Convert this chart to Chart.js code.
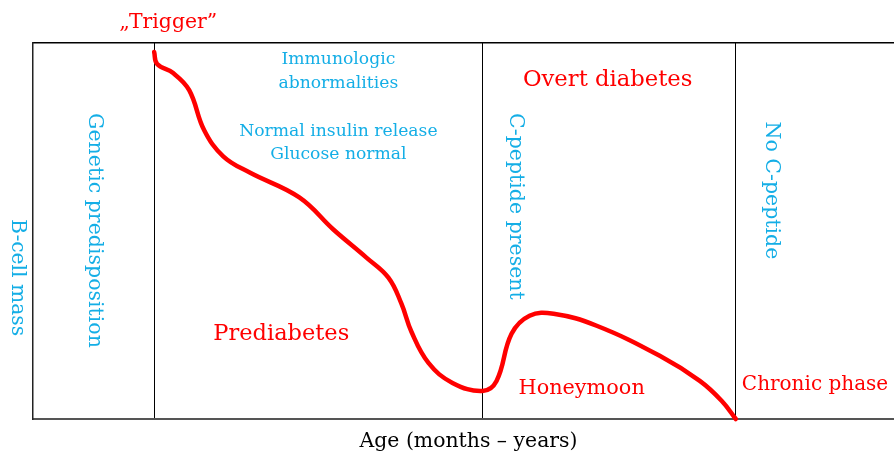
<!DOCTYPE html>
<html>
<head>
<meta charset="utf-8">
<script src="https://cdn.jsdelivr.net/npm/chart.js@4.4.1/dist/chart.umd.min.js"></script>
<style>
  html, body { margin: 0; padding: 0; background: #fff; }
  #wrap { width: 894px; height: 457px; }
</style>
</head>
<body>
<div id="wrap"><canvas id="myChart"></canvas></div>
<script>
// age axis runs 0..860, B-cell mass 0..375 (arbitrary units)
const ageX = [121, 124, 140, 156, 171, 190, 216, 266, 300, 333, 355, 368, 378, 395, 419, 449, 463, 478, 496, 520, 563, 626, 666, 688, 702];
const betaMass = [366, 354, 345, 328, 288, 262, 246, 221, 189, 161, 141, 115, 87, 56, 36, 28, 38, 85, 103, 105, 93, 63, 38, 18, 0];
const stageBounds = [121, 449, 702];

const cyan = '#14aee6';
const red = '#ff0000';
const font = '"DejaVu Serif", "Liberation Serif", serif';

// [text, x, y, color, size, align, rotated]
const labels = [
  ['\u201eTrigger\u201d', 135, 395, red, 20.4, 'center', false],
  ['Immunologic', 305, 359, cyan, 17.2, 'center', false],
  ['abnormalities', 305, 335, cyan, 17.2, 'center', false],
  ['Normal insulin release', 305, 287, cyan, 17.2, 'center', false],
  ['Glucose normal', 305, 264, cyan, 17.2, 'center', false],
  ['Overt diabetes', 574, 338, red, 22.7, 'center', false],
  ['Prediabetes', 248, 85, red, 22.5, 'center', false],
  ['Honeymoon', 548, 30, red, 20.8, 'center', false],
  ['Chronic phase', 708, 34, red, 20, 'left', false],
  ['B-cell mass', -16, 141, cyan, 20.3, 'center', true],
  ['Genetic predisposition', 61, 188, cyan, 20.5, 'center', true],
  ['C-peptide present', 482, 212, cyan, 20.5, 'center', true],
  ['No C-peptide', 737, 228, cyan, 20.5, 'center', true],
  ['Age (months \u2013 years)', 435, -23, '#000', 20.4, 'center', false]
];

const textPlugin = {
  id: 'texts',
  afterDraw(chart) {
    const c = chart.ctx;
    const xs = chart.scales.x, ys = chart.scales.y;
    labels.forEach(([t, x, y, col, size, align, rot]) => {
      c.save();
      c.fillStyle = col;
      c.font = size + 'px ' + font;
      c.textAlign = align;
      c.textBaseline = 'middle';
      c.translate(xs.getPixelForValue(x), ys.getPixelForValue(y));
      if (rot) c.rotate(Math.PI / 2);
      c.fillText(t, 0, 0);
      c.restore();
    });
  }
};

new Chart(document.getElementById('myChart'), {
  type: 'line',
  data: {
    datasets: [{
      data: ageX.map((x, i) => ({ x: x, y: betaMass[i] })),
      borderColor: red,
      borderWidth: 4.5,
      borderCapStyle: 'round',
      tension: 0.4,
      pointRadius: 0,
      fill: false,
      clip: false
    }]
  },
  options: {
    responsive: true,
    maintainAspectRatio: false,
    animation: false,
    layout: { padding: { left: 33, top: 43, right: 0, bottom: 38 } },
    plugins: { legend: { display: false }, tooltip: { enabled: false } },
    scales: {
      x: {
        type: 'linear',
        min: 0,
        max: 860,
        afterBuildTicks: (s) => { s.ticks = stageBounds.map(v => ({ value: v })); },
        ticks: { display: false },
        grid: { color: '#000', lineWidth: 1, drawTicks: false },
        border: { display: true, color: '#555', width: 2 }
      },
      xTop: {
        type: 'linear',
        position: 'top',
        min: 0,
        max: 860,
        ticks: { display: false },
        grid: { display: false, drawTicks: false },
        border: { display: true, color: '#000', width: 1.5 }
      },
      y: {
        min: 0,
        max: 375,
        ticks: { display: false },
        grid: { display: false, drawTicks: false },
        border: { display: true, color: '#222', width: 1.5 }
      }
    }
  },
  plugins: [textPlugin]
});
</script>
</body>
</html>
